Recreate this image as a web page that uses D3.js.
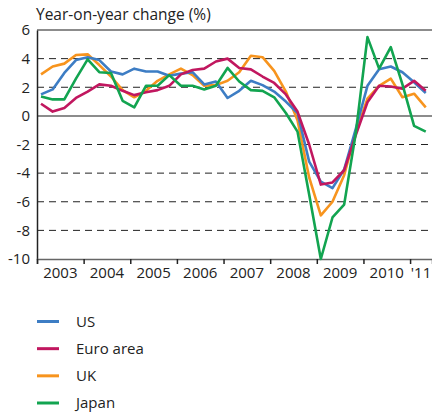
<!DOCTYPE html>
<html>
<head>
<meta charset="utf-8">
<script src="https://cdn.jsdelivr.net/npm/d3@7"></script>
<style>
  body { margin: 0; background: #fff; }
  svg { display: block; font-family: "Open Sans", "Noto Sans", sans-serif; }
</style>
</head>
<body>
<div id="chart"></div>
<script>
// Data: quarterly, 2003 Q1 to 2011 Q2
const START_YEAR = 2003;
const quarters = d3.range(34).map(i => ({ year: START_YEAR + Math.floor(i / 4), q: (i % 4) + 1 }));

const usValues = [1.5, 1.85, 3.0, 3.9, 4.1, 3.9, 3.1, 2.9, 3.3, 3.1, 3.1, 2.8, 2.95, 3.05, 2.2, 2.4,
  1.25, 1.75, 2.45, 2.15, 1.7, 1.0, 0.2, -3.2, -4.6, -5.05, -3.75, -0.9, 2.1, 3.25, 3.45, 3.05, 2.35, 1.6];
const euroValues = [0.85, 0.3, 0.55, 1.25, 1.7, 2.2, 2.1, 1.75, 1.45, 1.65, 1.8, 2.1, 2.9, 3.2, 3.3, 3.8,
  4.0, 3.35, 3.25, 2.75, 2.3, 1.5, 0.3, -2.0, -4.8, -4.65, -3.8, -1.35, 0.95, 2.1, 2.05, 1.9, 2.45, 1.75];
const ukValues = [2.9, 3.45, 3.65, 4.25, 4.3, 3.55, 2.75, 1.8, 1.3, 1.75, 2.45, 2.9, 3.3, 2.85, 2.1, 2.15,
  2.45, 3.05, 4.2, 4.1, 3.15, 1.7, -0.3, -4.3, -6.95, -6.0, -4.15, -1.15, 1.2, 2.1, 2.6, 1.3, 1.55, 0.6];
const japanValues = [1.35, 1.15, 1.15, 2.6, 3.95, 3.05, 3.0, 1.05, 0.6, 2.1, 2.1, 2.85, 2.1, 2.1, 1.85, 2.1,
  3.35, 2.4, 1.8, 1.75, 1.3, 0.2, -1.1, -5.5, -10.0, -7.1, -6.2, -1.2, 5.5, 3.3, 4.8, 2.2, -0.7, -1.1];

const seriesNames = ["US", "Euro area", "UK", "Japan"];
const seriesColors = ["#3d7dc4", "#c1175f", "#f7941e", "#12a450"];
const seriesValues = [usValues, euroValues, ukValues, japanValues];
const drawOrder = [2, 0, 1, 3]; // UK underneath, Japan on top

const yTicks = [-10, -8, -6, -4, -2, 0, 2, 4, 6];
const yearLabels = ["2003", "2004", "2005", "2006", "2007", "2008", "2009", "2010", "'11"];

const WIDTH = 432, HEIGHT = 412;
const PLOT = { left: 37, right: 432, top: 30, bottom: 259 };

const svg = d3.select("#chart").append("svg")
  .attr("width", WIDTH)
  .attr("height", HEIGHT);

const x = d3.scaleLinear()
  .domain([START_YEAR, 2011.47])
  .range([PLOT.left, PLOT.right]);

const y = d3.scaleLinear()
  .domain([-10, 6])
  .range([PLOT.bottom, PLOT.top]);

// position of a quarter's data point
const qx = d => x(d.year + (d.q - 1) / 4 + 0.086);

// Title
svg.append("text")
  .attr("x", 36)
  .attr("y", 20)
  .attr("font-size", 15.5)
  .attr("fill", "#222")
  .text("Year-on-year change (%)");

// Dashed gridlines
svg.append("g")
  .selectAll("line")
  .data(yTicks.filter(t => t !== 0 && t !== -10 && t !== 6))
  .join("line")
  .attr("x1", PLOT.left)
  .attr("x2", PLOT.right)
  .attr("y1", d => y(d))
  .attr("y2", d => y(d))
  .attr("stroke", "#222")
  .attr("stroke-width", 1)
  .attr("stroke-dasharray", "7,5");

// Top frame line and zero line
svg.append("line")
  .attr("x1", PLOT.left).attr("x2", PLOT.right)
  .attr("y1", y(6)).attr("y2", y(6))
  .attr("stroke", "#666").attr("stroke-width", 1.5);

svg.append("line")
  .attr("x1", PLOT.left).attr("x2", PLOT.right)
  .attr("y1", y(0)).attr("y2", y(0))
  .attr("stroke", "#666").attr("stroke-width", 1.5);

// Y axis
const yAxis = svg.append("g")
  .attr("transform", `translate(${PLOT.left},0)`)
  .call(d3.axisLeft(y).tickValues(yTicks).tickSize(0).tickPadding(7));
yAxis.select(".domain").attr("stroke", "#222").attr("stroke-width", 1.5);
yAxis.selectAll("text")
  .attr("font-size", 15)
  .attr("font-family", "Open Sans, Noto Sans, sans-serif")
  .attr("fill", "#222")
  .text(d => d);

// X axis (year boundaries as ticks, labels centred in each year)
const yearTicks = d3.range(START_YEAR, 2012);
const xAxis = svg.append("g")
  .attr("transform", `translate(0,${PLOT.bottom})`)
  .call(d3.axisBottom(x).tickValues(yearTicks).tickSize(5).tickFormat(""));
xAxis.select(".domain").attr("stroke", "#666").attr("stroke-width", 1.5);
xAxis.selectAll(".tick line").attr("stroke", "#222").attr("stroke-width", 1.5);

svg.append("g")
  .selectAll("text")
  .data(yearLabels)
  .join("text")
  .attr("x", (d, i) => i < yearLabels.length - 1 ? x(START_YEAR + i + 0.5) : (x(START_YEAR + i) + PLOT.right) / 2)
  .attr("y", 278)
  .attr("text-anchor", "middle")
  .attr("font-size", 15)
  .attr("fill", "#222")
  .text(d => d);

// Lines
const line = d3.line()
  .x((d, i) => qx(quarters[i]))
  .y(d => y(d));

svg.append("g")
  .selectAll("path")
  .data(drawOrder)
  .join("path")
  .attr("fill", "none")
  .attr("stroke", k => seriesColors[k])
  .attr("stroke-width", 2.6)
  .attr("stroke-linejoin", "round")
  .attr("d", k => line(seriesValues[k]));

// Legend
const legendY = d3.scaleLinear().domain([0, 3]).range([321.5, 403]);
const legend = svg.append("g")
  .selectAll("g")
  .data(seriesNames)
  .join("g")
  .attr("transform", (d, i) => `translate(0,${legendY(i)})`);

legend.append("line")
  .attr("x1", 37).attr("x2", 59)
  .attr("stroke", (d, i) => seriesColors[i])
  .attr("stroke-width", 3);

legend.append("text")
  .attr("x", 76)
  .attr("dy", "0.36em")
  .attr("font-size", 15)
  .attr("fill", "#222")
  .text(d => d);
</script>
</body>
</html>
